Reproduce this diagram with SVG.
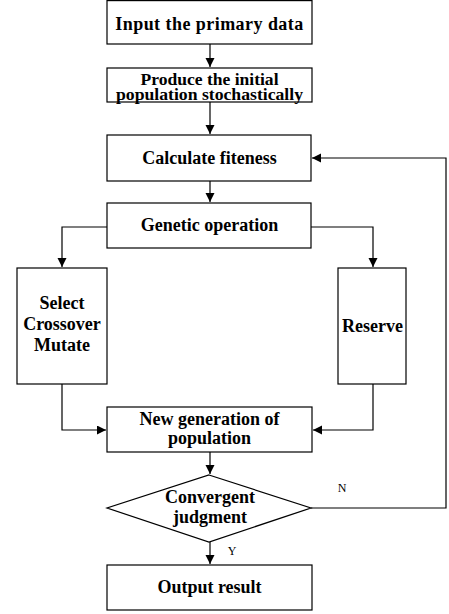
<svg xmlns="http://www.w3.org/2000/svg" width="449" height="614" viewBox="0 0 449 614">
<style>
.box{fill:#fff;stroke:#000;stroke-width:1.2}
.t{font-family:"Liberation Serif","Times New Roman","DejaVu Serif",serif;font-weight:bold;font-size:18px;text-anchor:middle;fill:#000}
.l{font-family:"Liberation Serif","Times New Roman","DejaVu Serif",serif;font-size:12px;text-anchor:middle;fill:#000}
.c{fill:none;stroke:#000;stroke-width:1.2}
</style>
<defs>
<marker id="a" markerWidth="10" markerHeight="10" refX="9" refY="4.5" orient="auto" markerUnits="userSpaceOnUse">
<path d="M0,0 L9,4.5 L0,9 Z" fill="#000"/>
</marker>
</defs>
<rect width="449" height="614" fill="#fff"/>
<g id="connectors">
<path class="c" d="M210,44 V67" marker-end="url(#a)"/>
<path class="c" d="M210,102 V134" marker-end="url(#a)"/>
<path class="c" d="M210,181 V202" marker-end="url(#a)"/>
<path class="c" d="M107,227 H62 V267" marker-end="url(#a)"/>
<path class="c" d="M311,227 H373 V267" marker-end="url(#a)"/>
<path class="c" d="M62,384 V430 H106" marker-end="url(#a)"/>
<path class="c" d="M373,384 V430 H313" marker-end="url(#a)"/>
<path class="c" d="M210,452 V474" marker-end="url(#a)"/>
<path class="c" d="M210,542 V564" marker-end="url(#a)"/>
<path class="c" d="M311,508 H446 V158 H312" marker-end="url(#a)"/>
<text class="l" x="342" y="492">N</text>
<text class="l" x="232" y="555">Y</text>
</g>
<g id="input">
<rect class="box" x="107" y="0.6" width="205" height="43.4"/>
<text class="t" x="209.5" y="30" letter-spacing="0.45">Input the primary data</text>
</g>
<g id="produce">
<rect class="box" x="107" y="68" width="205" height="34"/>
<text class="t" x="209.5" y="84.5" style="font-size:16px" textLength="138" lengthAdjust="spacingAndGlyphs">Produce the initial</text>
<text class="t" x="209.5" y="100" style="font-size:16px" textLength="187" lengthAdjust="spacingAndGlyphs">population stochastically</text>
</g>
<g id="calculate">
<rect class="box" x="107" y="135" width="204" height="46"/>
<text class="t" x="209.5" y="164">Calculate fiteness</text>
</g>
<g id="genetic">
<rect class="box" x="107" y="203" width="204" height="45"/>
<text class="t" x="209.5" y="231">Genetic operation</text>
</g>
<g id="select">
<rect class="box" x="17" y="268" width="90" height="116"/>
<text class="t" x="62" y="309">Select</text>
<text class="t" x="62" y="330">Crossover</text>
<text class="t" x="62" y="351">Mutate</text>
</g>
<g id="reserve">
<rect class="box" x="338" y="268" width="68" height="116"/>
<text class="t" x="372.5" y="332">Reserve</text>
</g>
<g id="newgen">
<rect class="box" x="107" y="407" width="205" height="45"/>
<text class="t" x="209.5" y="425">New generation of</text>
<text class="t" x="209.5" y="444">population</text>
</g>
<g id="convergent">
<polygon class="box" points="209,475 311,508 209,542 107,508"/>
<text class="t" x="210" y="503">Convergent</text>
<text class="t" x="210" y="523">judgment</text>
</g>
<g id="output">
<rect class="box" x="107" y="565" width="205" height="45"/>
<text class="t" x="209.5" y="593">Output result</text>
</g>
</svg>
